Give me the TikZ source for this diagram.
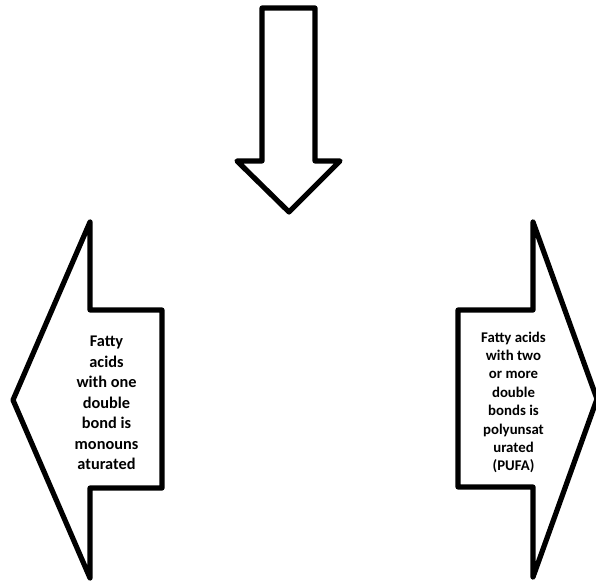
\documentclass[tikz,border=0pt]{standalone}
\usepackage{fontspec}
\setmainfont{Carlito}
\begin{document}
\begin{tikzpicture}[x=1pt,y=-1pt,
  arrowshape/.style={draw=black,fill=white,line width=5.2pt,line join=round},
  label/.style={align=center,inner sep=0pt}]
\useasboundingbox (0,0) rectangle (596,580);
% down arrow
\draw[arrowshape] (262,8) -- (315,8) -- (315,161) -- (340,161) -- (289,212) -- (237,161) -- (262,161) -- cycle;
% left arrow
\draw[arrowshape] (13,400) -- (90,222) -- (90,310) -- (162,310) -- (162,488) -- (90,488) -- (90,578) -- cycle;
% right arrow
\draw[arrowshape] (597,399) -- (533,222) -- (533,310) -- (458,310) -- (458,487) -- (533,487) -- (533,577) -- cycle;
\node[label,font=\bfseries\fontsize{16.3}{20.5}\selectfont] (mufa) at (106.5,403) {Fatty\\acids\\with one\\double\\bond is\\monouns\\aturated};
\node[label,font=\bfseries\fontsize{14.8}{18.4}\selectfont] (pufa) at (513.5,402.5) {Fatty acids\\with two\\or more\\double\\bonds is\\polyunsat\\urated\\(PUFA)};
\end{tikzpicture}
\end{document}
